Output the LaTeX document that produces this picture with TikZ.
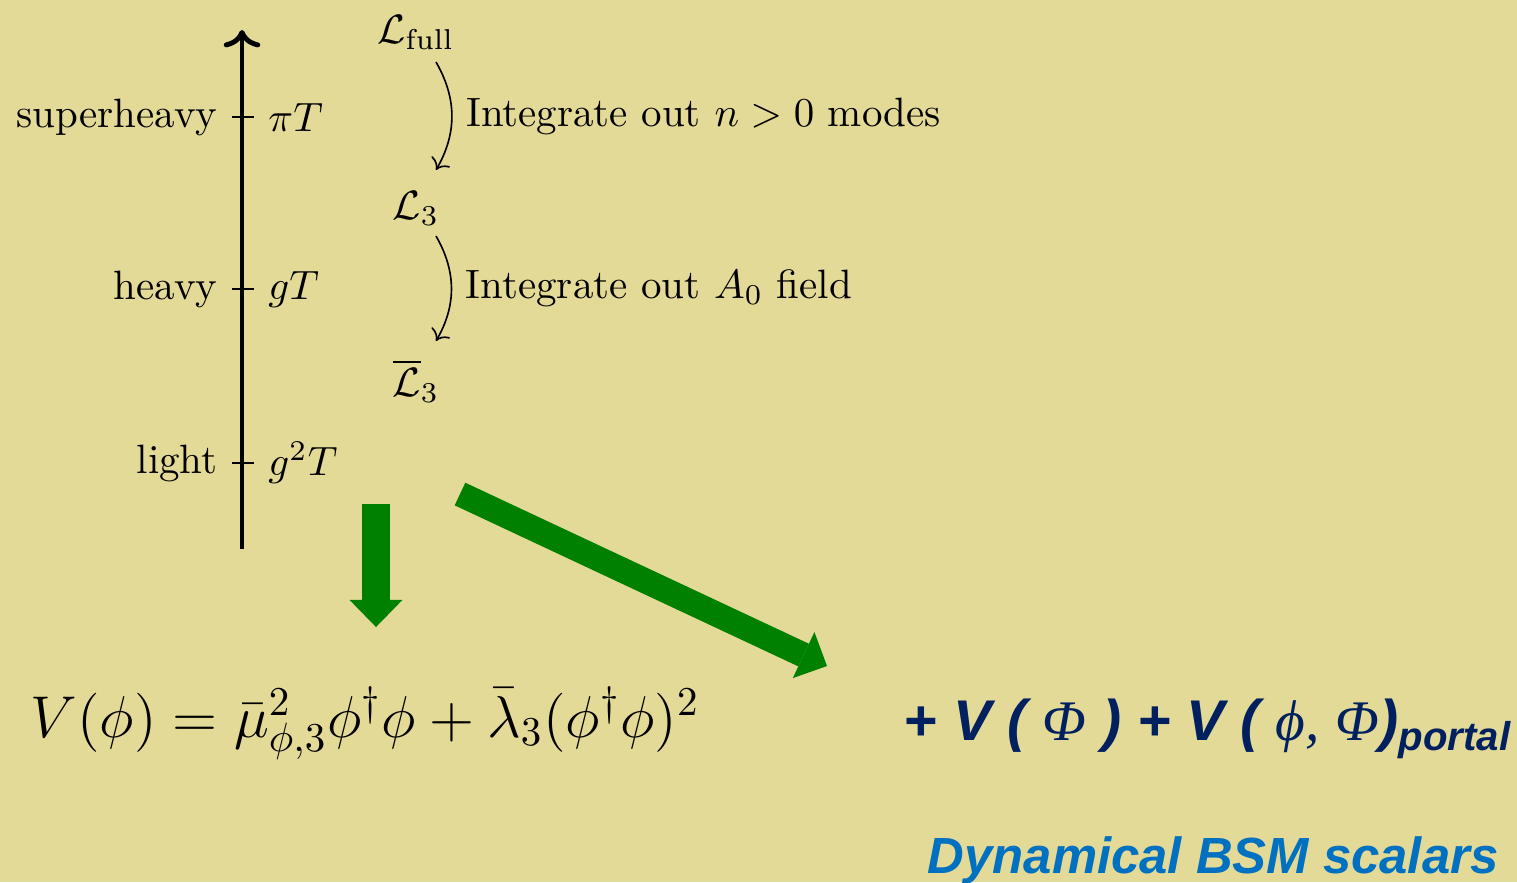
\documentclass[tikz,border=0pt]{standalone}
\usepackage{fontspec}
\newfontfamily\slidesans{Liberation Sans}
\newfontfamily\slideserif{Liberation Serif}
\usepackage{tikz}
\usetikzlibrary{arrows.meta,positioning,calc}
\definecolor{slidebg}{RGB}{227,218,152}
\definecolor{fatgreen}{RGB}{0,128,0}
\definecolor{navyblue}{RGB}{0,32,96}
\definecolor{bsmblue}{RGB}{0,112,192}
\newcommand{\grk}[1]{{\slideserif\mdseries\itshape #1}}

\begin{document}
\begin{tikzpicture}[x=0.244pt, y=-0.244pt,
    lag/.style={anchor=base, inner sep=0pt},
    flow/.style={->, bend left=30},
    bigtext/.style={anchor=base west, inner sep=0pt}]
    \fill[slidebg] (0,0) rectangle (1517,882);
    \useasboundingbox (0,0) rectangle (1517,882);

    \coordinate (axbot) at (242,549);
    \coordinate (axtop) at (242,30);
    \draw[line width=1.2pt, ->] (axbot) -- (axtop);
    \foreach \yy/\nm/\lvl/\mass in {117/sh/superheavy/\pi T, 289/hv/heavy/gT, 463/lt/light/g^2T} {
      \coordinate (\nm-w) at (232,\yy);
      \coordinate (\nm-e) at (254,\yy);
      \draw (\nm-w) -- (\nm-e);
      \node[left] (\nm-lvl) at (\nm-w) {\lvl};
      \node[right] (\nm-mass) at (\nm-e) {$\mass$};
    }

    \node[lag] (Lfull) at (416,43) {$\mathcal{L}_{\mathrm{full}}$};
    \node[lag] (L3) at (416,219) {$\mathcal{L}_3$};
    \node[lag] (L3bar) at (416,396) {$\overline{\mathcal{L}}_3$};
    \draw[flow] ($(Lfull.base)+(20,19)$) to node[right] {Integrate out $n>0$ modes} ($(L3.base)+(20,-49)$);
    \draw[flow] ($(L3.base)+(20,17)$) to node[right] {Integrate out $A_0$ field} ($(L3bar.base)+(20,-55)$);

    \coordinate (downtail) at (376,504);
    \coordinate (downtip) at (376,627);
    \coordinate (diagtail) at (460,494);
    \coordinate (diagtip) at (827,666);
    \draw[fatgreen, line width=6.6pt, -{Triangle[length=6.6pt, width=12.9pt, line width=0pt]}] (downtail) -- (downtip);
    \draw[fatgreen, line width=6.1pt, -{Triangle[length=6.3pt, width=12.4pt, line width=0pt]}] (diagtail) -- (diagtip);

    \node[bigtext, font=\fontsize{14.8}{17}\selectfont] (Vphi) at (30,737)
      {$V(\phi)=\bar{\mu}^2_{\phi,3}\phi^\dagger\phi+\bar{\lambda}_3(\phi^\dagger\phi)^2$};
    \node[bigtext, navyblue, font=\slidesans\bfseries\itshape\fontsize{14}{17}\selectfont] (Vbsm) at (903,740)
      {+ V ( \grk{Φ} ) + V ( \grk{ϕ,} \grk{Φ})\raisebox{-2.6pt}{\fontsize{9.8}{11}\selectfont portal}};
    \node[bigtext, bsmblue, font=\slidesans\bfseries\itshape\fontsize{12.4}{15}\selectfont] (bsm) at (927,873)
      {Dynamical BSM scalars};
\end{tikzpicture}
\end{document}
